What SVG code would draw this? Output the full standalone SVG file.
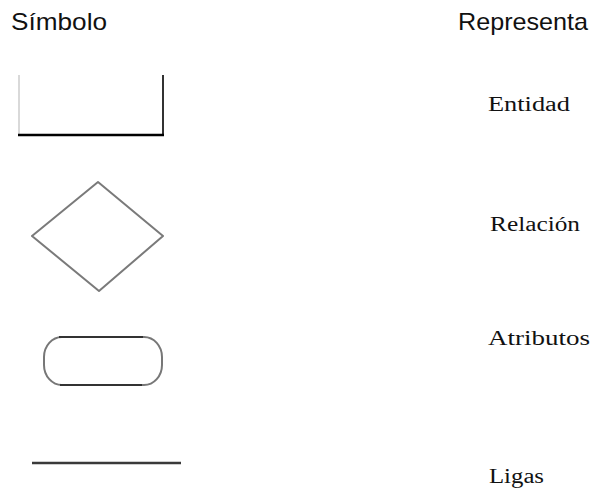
<svg xmlns="http://www.w3.org/2000/svg" width="595" height="495" viewBox="0 0 595 495">
  <style>
    .head { font-family: "Liberation Sans", Arial, sans-serif; font-size: 24px; fill: #111; }
    .label { font-family: "Liberation Serif", "Times New Roman", serif; font-size: 20px; fill: #111; }
  </style>
  <rect x="0" y="0" width="595" height="495" fill="#ffffff"/>

  <!-- column headings -->
  <g id="headings">
    <text class="head" x="11" y="30" textLength="96" lengthAdjust="spacingAndGlyphs">Símbolo</text>
    <text class="head" x="458" y="30" textLength="130" lengthAdjust="spacingAndGlyphs">Representa</text>
  </g>

  <!-- entity: open-topped box -->
  <g id="entidad">
    <line x1="19" y1="75" x2="19" y2="135" stroke="#cccccc" stroke-width="1.5"/>
    <line x1="163" y1="75" x2="163" y2="135" stroke="#333333" stroke-width="2"/>
    <line x1="18" y1="135" x2="164" y2="135" stroke="#000000" stroke-width="2.5"/>
    <text class="label" x="488" y="111" textLength="82" lengthAdjust="spacingAndGlyphs">Entidad</text>
  </g>

  <!-- relationship: diamond -->
  <g id="relacion">
    <polygon points="98,182 163,236 99,291 32,236" fill="none" stroke="#7a7a7a" stroke-width="2" stroke-linejoin="round"/>
    <text class="label" x="490" y="231" textLength="90" lengthAdjust="spacingAndGlyphs">Relación</text>
  </g>

  <!-- attribute: rounded capsule -->
  <g id="atributos">
    <rect x="44" y="337" width="118" height="48" rx="18" ry="20" fill="none" stroke="#777777" stroke-width="2"/>
    <line x1="59" y1="337" x2="143" y2="337" stroke="#333333" stroke-width="2"/>
    <line x1="60" y1="385" x2="142" y2="385" stroke="#333333" stroke-width="2"/>
    <text class="label" x="488" y="345" textLength="102" lengthAdjust="spacingAndGlyphs">Atributos</text>
  </g>

  <!-- link: plain line -->
  <g id="ligas">
    <line x1="32" y1="463" x2="181" y2="463" stroke="#3a3a3a" stroke-width="2.5"/>
    <text class="label" x="489" y="483" textLength="55" lengthAdjust="spacingAndGlyphs">Ligas</text>
  </g>
</svg>
